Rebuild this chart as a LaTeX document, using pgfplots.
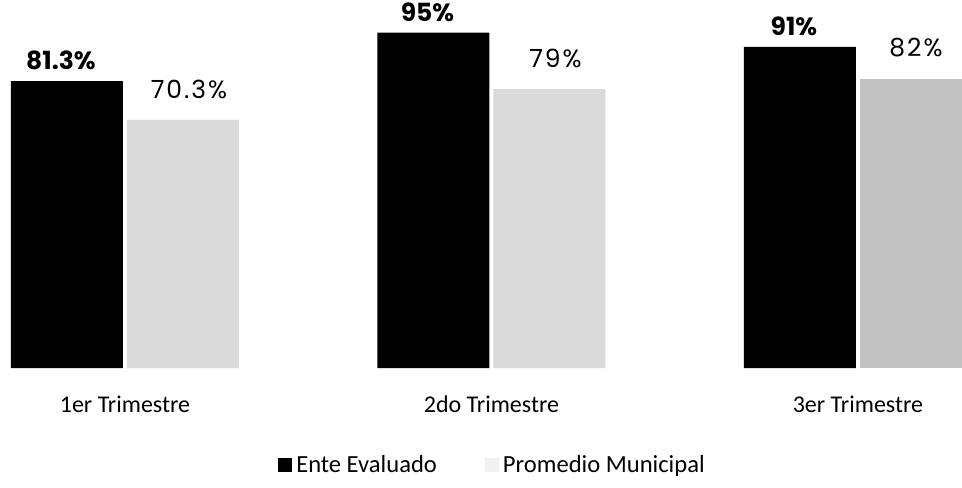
\documentclass[border=0pt]{standalone}
\usepackage{pgfplots}
\pgfplotsset{compat=1.18}
\usepackage{fontspec}
\setmainfont{Carlito}
\newfontfamily\labfont{Poppins}
\newfontfamily\labfontsp[LetterSpace=8]{Poppins}
\definecolor{grayA}{HTML}{DADADA}
\definecolor{grayB}{HTML}{C2C2C2}
\begin{document}
\begin{tikzpicture}
\useasboundingbox (0,-59.5pt) rectangle (481pt,184pt);
\begin{axis}[
  at={(0,0)}, anchor=south west,
  scale only axis, width=481pt, height=184pt,
  xmin=-0.341, xmax=2.284, ymin=0, ymax=104.25,
  axis line style={draw=none}, tick style={draw=none},
  ytick=\empty,
  xtick={0,1,2}, xticklabels={1er Trimestre,2do Trimestre,3er Trimestre},
  xticklabel style={font=\fontsize{12}{14}\selectfont, yshift=-6pt},
  ybar, bar width=56pt,
  legend style={at={(0.513,-0.264)}, anchor=center, draw=none, legend columns=2,
    font=\fontsize{12.3}{14}\selectfont,
    /tikz/every even column/.append style={column sep=22pt}},
  legend image code/.code={\fill[#1,draw=none] (0pt,-3.5pt) rectangle (7pt,3.5pt);},
]
\addplot[fill=black, draw=none, bar shift=-29pt,
  nodes near coords={\pgfmathprintnumber[fixed,precision=1,assume math mode=true]{\pgfplotspointmeta}\%},
  nodes near coords style={font=\labfont\bfseries\fontsize{12.5}{14}\selectfont, anchor=south, yshift=2pt, xshift=-3pt}]
  coordinates {(0,81.3) (1,95) (2,91)};
\addlegendentry{Ente Evaluado}
\addplot[fill=grayA, draw=none, bar shift=29pt,
  legend image code/.code={\fill[gray!12,draw=none] (0pt,-3.5pt) rectangle (7pt,3.5pt);},
  nodes near coords={\pgfmathprintnumber[fixed,precision=1,assume math mode=true]{\pgfplotspointmeta}\%},
  nodes near coords style={font=\labfontsp\fontsize{12.5}{14}\selectfont, anchor=south, yshift=7pt, xshift=3pt}]
  coordinates {(0,70.3) (1,79)};
\addlegendentry{Promedio Municipal}
\addplot[fill=grayB, draw=none, bar shift=29pt, forget plot,
  nodes near coords={\pgfmathprintnumber[fixed,precision=1,assume math mode=true]{\pgfplotspointmeta}\%},
  nodes near coords style={font=\labfontsp\fontsize{12.5}{14}\selectfont, anchor=south, yshift=7pt}]
  coordinates {(2,82)};
\end{axis}
\end{tikzpicture}
\end{document}
